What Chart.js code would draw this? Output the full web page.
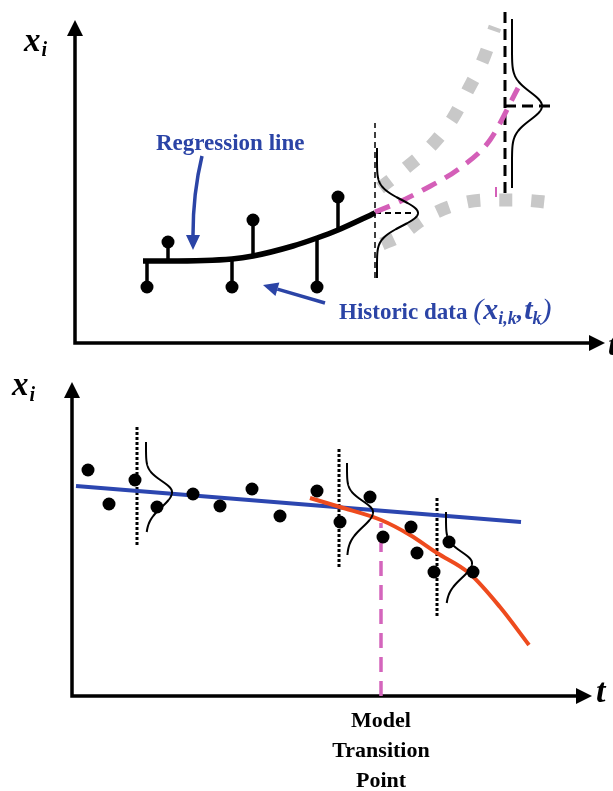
<!DOCTYPE html>
<html>
<head>
<meta charset="utf-8">
<script src="https://cdn.jsdelivr.net/npm/chart.js@4.4.1/dist/chart.umd.min.js"></script>
<style>
  html, body { margin: 0; padding: 0; background: #fff; }
  #wrap { position: relative; width: 613px; height: 791px; overflow: hidden; }
  canvas { position: absolute; left: 0; }
  #upper { top: 0; }
  #lower { top: 360px; }
</style>
</head>
<body>
<div id="wrap">
  <canvas id="upper" width="613" height="360"></canvas>
  <canvas id="lower" width="613" height="431"></canvas>
</div>
<script>
// ---------- upper panel: regression over historic data, forecast band ----------
const histT = [72, 93, 157, 178, 242, 263];
const histX = [56, 101, 56, 123, 56, 146];
const histFit = [82, 82, 84, 87, 105, 113];

const regT = [68, 93, 157, 178, 218, 242, 263, 300];
const regX = [82, 82, 84, 87, 97, 105, 113, 130];

const forecastT = [300, 322, 348, 385, 415, 443];
const forecastX = [131, 140, 153, 175, 203, 255];

const bandUpT = [305, 332, 357, 378, 393, 408, 420];
const bandUpX = [155, 176, 198, 225, 253, 283, 316];
const bandLowT = [307, 323, 350, 380, 412, 443, 480];
const bandLowX = [99, 106, 125, 138, 143, 143, 140];

// predictive distributions at two horizons
const pdfUpT = [300, 430];        // guide position
const pdfUpBase = [302, 437];     // where the density curve starts
const pdfUpMean = [130, 237];
const pdfUpLow = [65, 150];
const pdfUpHigh = [220, 331];
const pdfUpPeak = [41, 30];
const pdfUpSd = [13, 14];
const pdfUpMarkEnd = [339, 478];  // horizontal mark at the mean

// ---------- lower panel: drift detection ----------
const obsT = [16, 37, 63, 85, 121, 148, 180, 208, 245, 268, 298, 311, 339, 345, 362, 377, 401];
const obsX = [226, 192, 216, 189, 202, 190, 207, 180, 205, 174, 199, 159, 169, 143, 124, 154, 124];

const trendT = [4, 449];
const trendX = [210, 174];

const driftT = [238, 268, 309, 338, 365, 397, 428, 457];
const driftX = [198, 189, 176, 161, 143, 123, 89, 51];

const pdfLoT = [65, 267, 365];
const pdfLoLow = [151, 129, 80];
const pdfLoHigh = [269, 247, 199];
const pdfLoBase = [74, 275, 374];
const pdfLoMean = [204, 184, 133];
const pdfLoTop = [254, 233, 184];
const pdfLoBottom = [164, 141, 93];
const pdfLoPeak = [26, 26, 26];

const transitionT = 309;
const transitionX = [0, 173];

const BLUE = '#2b44a6';
const SERIF = '"Liberation Serif", "Times New Roman", serif';

const pts = (ts, xs) => ts.map((t, i) => ({ x: t, y: xs[i] }));

function line(data, color, width, dash, extra) {
  return Object.assign({
    data, borderColor: color, borderWidth: width, borderDash: dash || [],
    pointRadius: 0, showLine: true, fill: false, clip: false, tension: 0
  }, extra || {});
}

function baseOptions(pad, xMax, yMax) {
  return {
    responsive: false,
    animation: false,
    events: [],
    layout: { padding: pad },
    plugins: { legend: { display: false }, tooltip: { enabled: false } },
    scales: {
      x: { type: 'linear', display: false, min: 0, max: xMax },
      y: { type: 'linear', display: false, min: 0, max: yMax }
    }
  };
}

// axes with arrow heads drawn along the chart area
const axesPlugin = {
  id: 'axes',
  beforeDatasetsDraw(chart) {
    const { ctx, chartArea: a } = chart;
    ctx.save();
    ctx.strokeStyle = '#000';
    ctx.fillStyle = '#000';
    ctx.lineWidth = 3.5;
    ctx.beginPath();
    ctx.moveTo(a.left, a.top + 12);
    ctx.lineTo(a.left, a.bottom);
    ctx.lineTo(a.right - 12, a.bottom);
    ctx.stroke();
    ctx.beginPath();
    ctx.moveTo(a.left, a.top);
    ctx.lineTo(a.left - 8, a.top + 16);
    ctx.lineTo(a.left + 8, a.top + 16);
    ctx.closePath();
    ctx.fill();
    ctx.beginPath();
    ctx.moveTo(a.right, a.bottom);
    ctx.lineTo(a.right - 16, a.bottom - 8);
    ctx.lineTo(a.right - 16, a.bottom + 8);
    ctx.closePath();
    ctx.fill();
    ctx.restore();
  }
};

function drawBell(chart, b) {
  const { ctx, scales: { x, y } } = chart;
  ctx.save();
  ctx.strokeStyle = '#000';
  ctx.lineWidth = 2;
  ctx.beginPath();
  let first = true;
  for (let v = b.top; v >= b.bottom; v -= 0.5) {
    const d = v - b.mean;
    const sd = d > 0 ? b.sdUp : b.sdDown;
    const t = b.base + b.peak * Math.exp(-d * d / (2 * sd * sd));
    const px = x.getPixelForValue(t), py = y.getPixelForValue(v);
    if (first) { ctx.moveTo(px, py); first = false; } else ctx.lineTo(px, py);
  }
  ctx.stroke();
  ctx.restore();
}

// text made of runs with their own font and baseline shift
function drawRuns(ctx, x, y, runs, color) {
  ctx.save();
  ctx.fillStyle = color;
  ctx.textBaseline = 'alphabetic';
  let cx = x;
  runs.forEach(r => {
    ctx.font = r.font;
    ctx.fillText(r.text, cx, y + (r.dy || 0));
    cx += ctx.measureText(r.text).width + (r.gap || 0);
  });
  ctx.restore();
}

function drawArrow(chart, from, ctrl, to, color) {
  const { ctx, scales: { x, y } } = chart;
  const p0 = [x.getPixelForValue(from[0]), y.getPixelForValue(from[1])];
  const p1 = [x.getPixelForValue(ctrl[0]), y.getPixelForValue(ctrl[1])];
  const p2 = [x.getPixelForValue(to[0]), y.getPixelForValue(to[1])];
  const ang = Math.atan2(p2[1] - p1[1], p2[0] - p1[0]);
  const len = 15, half = 7;
  const bx = p2[0] - len * Math.cos(ang), by = p2[1] - len * Math.sin(ang);
  ctx.save();
  ctx.strokeStyle = color;
  ctx.fillStyle = color;
  ctx.lineWidth = 3.5;
  ctx.beginPath();
  ctx.moveTo(p0[0], p0[1]);
  ctx.quadraticCurveTo(p1[0], p1[1], bx, by);
  ctx.stroke();
  ctx.beginPath();
  ctx.moveTo(p2[0], p2[1]);
  ctx.lineTo(bx + half * Math.sin(ang), by - half * Math.cos(ang));
  ctx.lineTo(bx - half * Math.sin(ang), by + half * Math.cos(ang));
  ctx.closePath();
  ctx.fill();
  ctx.restore();
}

const upperDecor = {
  id: 'upperDecor',
  afterDatasetsDraw(chart) {
    const { ctx } = chart;
    pdfUpT.forEach((t, i) => drawBell(chart, {
      base: pdfUpBase[i], mean: pdfUpMean[i], peak: pdfUpPeak[i],
      sdUp: pdfUpSd[i], sdDown: pdfUpSd[i],
      top: 2 * pdfUpMean[i] - pdfUpLow[i],
      bottom: pdfUpLow[i] + (i === 0 ? 0 : 5)
    }));
    drawArrow(chart, [127, 187], [118, 150], [118, 93], BLUE);
    drawArrow(chart, [250, 40], [219, 49], [188, 58], BLUE);

    drawRuns(ctx, 156, 150, [{ text: 'Regression line', font: 'bold 23px ' + SERIF }], BLUE);
    drawRuns(ctx, 339, 319, [
      { text: 'Historic data ', font: 'bold 23px ' + SERIF },
      { text: '(', font: 'italic 30px ' + SERIF },
      { text: 'x', font: 'bold italic 30px ' + SERIF },
      { text: 'i,k', font: 'bold italic 18px ' + SERIF, dy: 5 },
      { text: ',', font: 'bold italic 26px ' + SERIF, gap: 1 },
      { text: 't', font: 'bold italic 30px ' + SERIF },
      { text: 'k', font: 'bold italic 18px ' + SERIF, dy: 5 },
      { text: ')', font: 'italic 30px ' + SERIF }
    ], BLUE);

    drawRuns(ctx, 24, 51, [
      { text: 'x', font: 'bold italic 33px ' + SERIF, gap: 1 },
      { text: 'i', font: 'bold italic 20px ' + SERIF, dy: 5 }
    ], '#000');
    drawRuns(ctx, 608, 355, [{ text: 't', font: 'bold italic 32px ' + SERIF }], '#000');
  }
};

const lowerDecor = {
  id: 'lowerDecor',
  afterDatasetsDraw(chart) {
    const { ctx } = chart;
    pdfLoT.forEach((t, i) => drawBell(chart, {
      base: pdfLoBase[i], mean: pdfLoMean[i], peak: pdfLoPeak[i],
      sdUp: 11, sdDown: 15, top: pdfLoTop[i], bottom: pdfLoBottom[i]
    }));
    drawRuns(ctx, 12, 35, [
      { text: 'x', font: 'bold italic 33px ' + SERIF, gap: 1 },
      { text: 'i', font: 'bold italic 20px ' + SERIF, dy: 6 }
    ], '#000');
    drawRuns(ctx, 596, 342, [{ text: 't', font: 'bold italic 34px ' + SERIF }], '#000');

    const xc = chart.scales.x.getPixelForValue(transitionT);
    ctx.save();
    ctx.fillStyle = '#000';
    ctx.font = 'bold 22px ' + SERIF;
    ctx.textAlign = 'center';
    ['Model', 'Transition', 'Point'].forEach((s, i) => ctx.fillText(s, xc, 367 + i * 30));
    ctx.restore();
  }
};

// upper chart
const stemData = [];
histT.forEach((t, i) => {
  stemData.push({ x: t, y: histX[i] }, { x: t, y: histFit[i] }, { x: t, y: null });
});

new Chart(document.getElementById('upper'), {
  type: 'scatter',
  data: {
    datasets: [
      { data: pts(histT, histX), pointRadius: 6.5, backgroundColor: '#000', borderWidth: 0, clip: false },
      line(stemData, '#000', 3.5, [], { spanGaps: false }),
      line(pts(regT, regX), '#000', 5.5, [], { cubicInterpolationMode: 'monotone', borderCapStyle: 'butt' }),
      line(pts(forecastT, forecastX), '#d45fb8', 5, [16, 10], { cubicInterpolationMode: 'monotone' }),
      line(pts([421, 421], [146, 156]), '#d45fb8', 2),
      line(pts([pdfUpT[0], pdfUpT[0]], [pdfUpLow[0], pdfUpHigh[0]]), '#000', 1.5, [6, 4]),
      line(pts([pdfUpT[1], pdfUpT[1]], [pdfUpLow[1], pdfUpHigh[1]]), '#000', 3, [11, 6]),
      line(pts([pdfUpT[0], pdfUpMarkEnd[0]], [pdfUpMean[0], pdfUpMean[0]]), '#000', 1.8, [6, 4]),
      line(pts([pdfUpT[1], pdfUpMarkEnd[1]], [pdfUpMean[1], pdfUpMean[1]]), '#000', 3, [11, 6]),
      line(pts(bandUpT, bandUpX), '#c8c8c8', 13, [13, 20], { cubicInterpolationMode: 'monotone' }),
      line(pts(bandLowT, bandLowX), '#c8c8c8', 13, [13, 19], { cubicInterpolationMode: 'monotone' })
    ]
  },
  options: baseOptions({ left: 75, right: 8, top: 20, bottom: 17 }, 530, 323),
  plugins: [axesPlugin, upperDecor]
});

// lower chart
new Chart(document.getElementById('lower'), {
  type: 'scatter',
  data: {
    datasets: [
      { data: pts(obsT, obsX), pointRadius: 6.5, backgroundColor: '#000', borderWidth: 0, clip: false },
      line(pts(driftT, driftX), '#ee4b1e', 4, [], { cubicInterpolationMode: 'monotone' }),
      line(pts(trendT, trendX), '#2c46b0', 4),
      ...pdfLoT.map((t, i) => line(pts([t, t], [pdfLoLow[i], pdfLoHigh[i]]), '#000', 3, [3, 2])),
      line(pts([transitionT, transitionT], transitionX), '#d465bc', 3.5, [15, 9])
    ]
  },
  options: baseOptions({ left: 72, right: 21, top: 22, bottom: 95 }, 520, 314),
  plugins: [axesPlugin, lowerDecor]
});
</script>
</body>
</html>
